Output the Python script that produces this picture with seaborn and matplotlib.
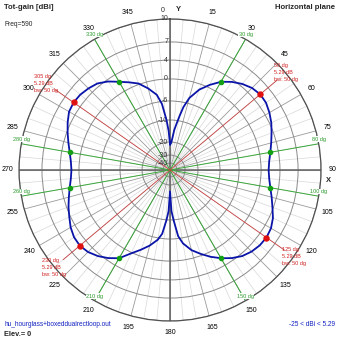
import numpy as np
import matplotlib
matplotlib.use("Agg")
import matplotlib.pyplot as plt
import seaborn as sns
import pandas as pd

# Horizontal-plane total gain pattern (azimuth in degrees, gain in dBi)
azimuth_deg = [0, 2, 4, 6, 8, 10, 12, 15, 20, 25, 30, 35, 40, 45, 50, 55, 60, 65, 70, 75,
               80, 85, 90, 95, 100, 105, 110, 115, 120, 125, 130, 135, 140, 145, 150, 155,
               160, 165, 170, 173, 176, 178, 180, 182, 184, 187, 190, 195, 200, 205, 210,
               215, 220, 225, 230, 235, 240, 245, 250, 255, 260, 265, 270, 275, 280, 285,
               290, 295, 300, 305, 310, 315, 320, 325, 330, 335, 340, 345, 350, 353, 356,
               358, 360]
gain_dbi = [-22, -21, -18.5, -14.5, -11.5, -9, -7, -4.5, -1.5, 0.6, 2.29, 3.5, 4.4, 5.0, 5.29,
            5.2, 4.8, 4.3, 3.6, 2.9, 2.29, 1.8, 1.6, 1.8, 2.29, 3.0, 3.8, 4.6, 5.1, 5.29, 5.2,
            4.9, 4.4, 3.5, 2.29, 1.0, -0.5, -2.2, -4.5, -6.5, -10, -14, -25, -14, -10, -7,
            -5.5, -3.5, -1.7, 0.2, 2.29, 3.5, 4.4, 5.0, 5.29, 5.2, 4.8, 4.2, 3.6, 2.9, 2.29,
            1.8, 1.6, 1.8, 2.29, 3.0, 3.8, 4.5, 5.1, 5.29, 5.2, 4.9, 4.5, 3.6, 2.29, 1.2, 0.2,
            -1.8, -4.0, -6.5, -10, -15, -22]

peak_dirs = [50, 125, 230, 305]
peak_gain = 5.29
beamwidth = 50
halfpower_dirs = [30, 80, 100, 150, 210, 260, 280, 330]
halfpower_gain = 2.29
ring_db = [-40, -30, -20, -10, -6, 0, 4, 7, 10]
ring_labels = ["-40", "-30", "-20", "-10", "-6", "0", "4", "7", "10"]
angle_ticks = list(range(0, 360, 15))

# Radial gain scale: compressed, roughly logarithmic spacing of the dB rings
scale_db = [-50, -40, -30, -20, -10, -6, 0, 4, 7, 10]
scale_pos = [0.0, 0.046, 0.099, 0.185, 0.331, 0.457, 0.603, 0.728, 0.848, 1.0]


def fwd(v):
    return np.interp(np.asarray(v, dtype=float), scale_db, scale_pos)


def inv(p):
    return np.interp(np.asarray(p, dtype=float), scale_pos, scale_db)


sns.set_style("white")
plt.rcParams["font.family"] = ["Liberation Sans", "DejaVu Sans"]

fig = plt.figure(figsize=(3.39, 3.39), dpi=100)
ax = fig.add_axes([0.0561, 0.0531, 0.8909, 0.8909], projection="polar")
ax.set_theta_zero_location("N")
ax.set_theta_direction(-1)
ax.set_rscale("function", functions=(fwd, inv))
ax.set_rlim(-50, 10)

# grid: dB rings, 15-degree spokes, faint 5-degree spokes
ax.set_yticks(ring_db)
ax.set_yticklabels([])
ax.set_xticks(np.deg2rad(angle_ticks))
ax.set_xticks(np.deg2rad(np.arange(0, 360, 5)), minor=True)
ax.yaxis.grid(True, color="#8a8a8a", lw=0.7)
ax.xaxis.grid(True, which="major", color="#9a9a9a", lw=0.6)
ax.xaxis.grid(True, which="minor", color="#d8d8d8", lw=0.5)
ax.tick_params(axis="x", which="both", length=0, pad=1.5, labelsize=5, colors="black")
tick_text = [str(a) for a in angle_ticks]
tick_text[0] = ""
ax.set_xticklabels(tick_text)
ax.spines["polar"].set_color("#505050")
ax.spines["polar"].set_linewidth(0.9)
for a in (0, 90, 180, 270):
    ax.axvline(np.deg2rad(a), color="#606060", lw=1.1, zorder=1.6)

# ring labels along the vertical axis
for v, lab in zip(ring_db, ring_labels):
    ax.annotate(lab, xy=(0, v), xytext=(-2, 0), textcoords="offset pixels",
                ha="right", va="center", fontsize=5, color="#303030",
                annotation_clip=False, zorder=4)

# half-power direction lines with labels
for d in halfpower_dirs:
    t = np.deg2rad(d)
    ax.plot([t, t], [-50, 10], color="#3aa83a", lw=0.7, zorder=2)
    ax.annotate(f"{d} dg", xy=(t, 10), xytext=(0, 2), textcoords="offset pixels",
                ha="center", va="bottom", fontsize=4, color="#2a9a2a",
                bbox=dict(boxstyle="square,pad=0.05", fc="white", ec="none"),
                annotation_clip=False, zorder=6)

# main-lobe direction lines with labels
for d in peak_dirs:
    t = np.deg2rad(d)
    ax.plot([t, t], [-50, 8.5], color="#c84040", lw=0.6, zorder=2)
    ax.annotate(f"{d} dg\n{peak_gain} dB\nbw: {beamwidth} dg", xy=(t, 10.0),
                ha="center", va="center", multialignment="left", fontsize=4,
                linespacing=1.5, color="#d02020", annotation_clip=False, zorder=6)

# pattern curve
df = pd.DataFrame({"theta": np.deg2rad(azimuth_deg), "gain": gain_dbi})
sns.lineplot(data=df, x="theta", y="gain", ax=ax, color="#0a14a8", lw=1.3,
             sort=False, legend=False, zorder=5)
ax.set_xlabel("")
ax.set_ylabel("")

ax.plot(np.deg2rad(halfpower_dirs), [halfpower_gain] * len(halfpower_dirs), "o",
        color="#14a014", ms=3, zorder=7)
ax.plot(np.deg2rad(peak_dirs), [peak_gain] * len(peak_dirs), "o",
        color="#e01010", ms=3.6, zorder=7)

# axis names and the zero-degree label
ax.annotate("0", xy=(0, 10), xytext=(-7, 8), textcoords="offset pixels",
            ha="center", va="center", fontsize=5, annotation_clip=False)
ax.annotate("Y", xy=(0, 10), xytext=(8, 9), textcoords="offset pixels",
            ha="center", va="center", fontsize=5.5, fontweight="bold",
            annotation_clip=False)
ax.annotate("X", xy=(np.pi / 2, 10), xytext=(7, -11), textcoords="offset pixels",
            ha="center", va="center", fontsize=5.5, fontweight="bold",
            annotation_clip=False)

fig.text(0.012, 0.979, "Tot-gain [dBi]", fontsize=5.6, fontweight="bold",
         ha="left", va="center")
fig.text(0.012, 0.929, "Freq=590", fontsize=4.8, ha="left", va="center")
fig.text(0.988, 0.979, "Horizontal plane", fontsize=5.6, fontweight="bold",
         ha="right", va="center")
fig.text(0.012, 0.044, "hu_hourglass+boxeddualrectloop.out", fontsize=4.7,
         color="#1020c0", ha="left", va="center")
fig.text(0.012, 0.012, "Elev.= 0", fontsize=5.3, fontweight="bold",
         ha="left", va="center")
fig.text(0.988, 0.044, "-25 < dBi < 5.29", fontsize=4.7, color="#1020c0",
         ha="right", va="center")

fig.savefig("out.png", dpi=100, facecolor="white")
